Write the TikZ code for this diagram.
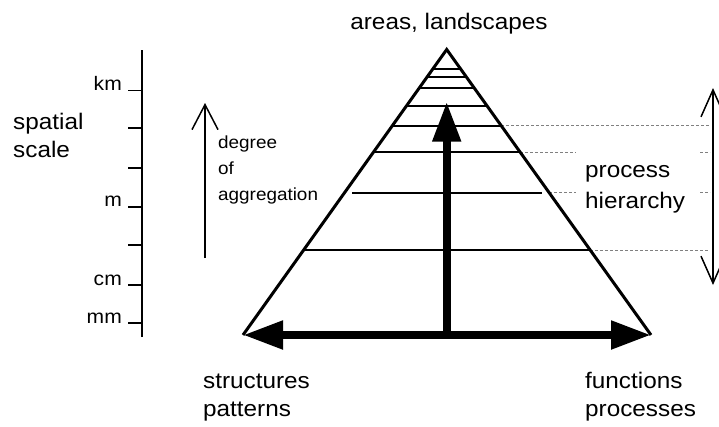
\documentclass[tikz,border=0pt]{standalone}
\usepackage{fontspec}
\setmainfont{Liberation Sans}[FakeStretch=1.08]
\usetikzlibrary{arrows.meta,calc}
\tikzset{
  big/.style={font=\fontsize{22.5}{27.5}\selectfont, align=left, inner sep=0pt},
  small/.style={font=\fontsize{17.5}{26}\selectfont, align=left, inner sep=0pt},
  unit/.style={font=\fontsize{19.5}{21}\selectfont, inner sep=0pt, anchor=base east},
  edge/.style={line width=3pt, line join=miter},
  rung/.style={line width=1.8pt},
  fat/.style={line width=8pt, -{Triangle[length=40pt,width=27pt]}},
  fatboth/.style={line width=8pt, {Triangle[length=40pt,width=27pt]}-{Triangle[length=40pt,width=27pt]}},
  thin/.style={line width=1.5pt},
  dashline/.style={line width=0.8pt, gray, dash pattern=on 3pt off 2pt},
}
\begin{document}
\begin{tikzpicture}[x=1pt,y=-1pt]
\useasboundingbox (0,0) rectangle (719,426);
\coordinate (apex) at (446.7,49.5);
\coordinate (bl) at (243,335);
\coordinate (br) at (651,335);
\coordinate (mid) at (446.7,335);
\coordinate (top) at (446.7,101.7);
\coordinate (gl) at (576,0);
\coordinate (gr) at (700,0);
\coordinate (hx) at (710,0);
\coordinate (htop) at (713,88);
\coordinate (hbot) at (713,285);
\coordinate (agg0) at (205,258);
\coordinate (agg1) at (205,103);
\coordinate (ax0) at (141.7,337);
\coordinate (ax1) at (141.7,50);

\foreach \t in {0.267,0.702}{
  \path ($(apex)!\t!(br)$) coordinate (d);
  \draw[dashline] (d) -- (d -| hx);
}
\foreach \t in {0.360,0.502}{
  \path ($(apex)!\t!(br)$) coordinate (d);
  \draw[dashline] (d) -- (d -| gl);
  \draw[dashline] (d -| gr) -- (d -| hx);
}

\draw[edge] (bl) -- (apex) -- (br);
\foreach \t in {0.068,0.095,0.136,0.197,0.267,0.360,0.702}
  \draw[rung] ($(apex)!\t!(bl)$) -- ($(apex)!\t!(br)$);
\draw[rung, shorten <=8pt, shorten >=7pt] ($(apex)!0.502!(bl)$) -- ($(apex)!0.502!(br)$);
\draw[fat] (mid) -- (top);
\draw[fatboth] (bl) -- (br);

\draw[thin, {Straight Barb[length=27pt,width=24pt]}-{Straight Barb[length=27pt,width=24pt]}] (hbot) -- (htop);
\draw[thin, -{Straight Barb[length=25pt,width=26pt]}] (agg0) -- (agg1);

\draw[rung] (ax0) -- (ax1);
\foreach \y in {90.5,128,167.7,206.7,245,285,323.3}
  \draw[rung] (141.7,\y) -- ++(-13.7,0);
\node[unit] (km) at (122,90) {km};
\node[unit] (m) at (122,206.7) {m};
\node[unit] (cm) at (122,285) {cm};
\node[unit] (mm) at (122,323.3) {mm};

\node[big, anchor=base] (areas) at (449,29.5) {areas, landscapes};
\node[big, anchor=base west] (spatial) at (13,157) {spatial\\scale};
\node[small, anchor=base west] (degree) at (218,200.3) {degree\\of\\aggregation};
\node[big, font=\fontsize{22.5}{31}\selectfont, anchor=base west] (proc) at (585,208) {process\\hierarchy};
\node[big, font=\fontsize{22.5}{28.7}\selectfont, anchor=base west] (struct) at (203,416.7) {structures\\patterns};
\node[big, font=\fontsize{22.5}{28.7}\selectfont, anchor=base west] (func) at (585,416.7) {functions\\processes};
\end{tikzpicture}
\end{document}
